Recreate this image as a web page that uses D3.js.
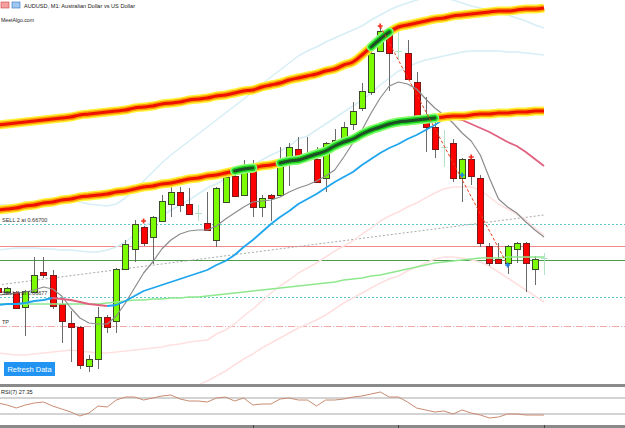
<!DOCTYPE html>
<html>
<head>
<meta charset="utf-8">
<script src="https://cdn.jsdelivr.net/npm/d3@7/dist/d3.min.js"></script>
<style>
  body { margin: 0; background: #fff; overflow: hidden; }
  svg { display: block; font-family: "Liberation Sans", Arial, sans-serif; }
</style>
</head>
<body>
<svg id="chart" width="625" height="428"></svg>
<script>
// AUDUSD M1 bars, left to right
const opens = [0.66636,0.66632,0.66632,0.66617,0.66632,0.66652,0.66649,0.66620,0.66601,0.66597,
  0.66558,0.66565,0.66607,0.66603,0.66655,0.66675,0.66697,0.66687,0.66703,0.66720,
  0.66732,0.66720,0.66711,0.66701,0.66684,0.66722,0.66748,0.66729,0.66757,0.66717,
  0.66729,0.66729,0.66764,0.66775,0.66768,0.66765,0.66746,0.66781,0.66784,0.66800,
  0.66816,0.66832,0.66873,0.66892,0.66873,0.66871,0.66842,0.66805,0.66797,0.66777,
  0.66781,0.66746,0.66765,0.66746,0.66678,0.66665,0.66661,0.66675,0.66681,0.66655,
  0.66666];
const highs = [0.66638,0.66637,0.66633,0.66634,0.66667,0.66667,0.66654,0.66624,0.66613,0.66598,
  0.66569,0.66617,0.66609,0.66656,0.66684,0.66704,0.66698,0.66708,0.66729,0.66737,
  0.66737,0.66736,0.66719,0.66732,0.66737,0.66752,0.66749,0.66764,0.66764,0.66729,
  0.66730,0.66777,0.66781,0.66787,0.66787,0.66777,0.66782,0.66795,0.66802,0.66822,
  0.66841,0.66872,0.66899,0.66893,0.66892,0.66884,0.66852,0.66827,0.66802,0.66794,
  0.66785,0.66766,0.66767,0.66749,0.66681,0.66681,0.66679,0.66682,0.66682,0.66668,
  0.66671];
const lows = [0.66630,0.66632,0.66616,0.66588,0.66632,0.66646,0.66615,0.66581,0.66562,0.66555,
  0.66552,0.66555,0.66591,0.66591,0.66654,0.66662,0.66678,0.66660,0.66702,0.66707,
  0.66712,0.66710,0.66703,0.66693,0.66677,0.66721,0.66727,0.66728,0.66707,0.66707,
  0.66703,0.66728,0.66738,0.66767,0.66766,0.66741,0.66732,0.66780,0.66783,0.66794,
  0.66813,0.66829,0.66872,0.66833,0.66864,0.66844,0.66804,0.66772,0.66766,0.66757,
  0.66742,0.66722,0.66739,0.66677,0.66658,0.66661,0.66650,0.66661,0.66632,0.66639,
  0.66649];
const closes = [0.66632,0.66636,0.66616,0.66633,0.66649,0.66649,0.66618,0.66603,0.66597,0.66559,
  0.66565,0.66607,0.66597,0.66655,0.66680,0.66700,0.66681,0.66707,0.66723,0.66732,
  0.66719,0.66710,0.66711,0.66694,0.66736,0.66747,0.66728,0.66756,0.66717,0.66726,
  0.66726,0.66764,0.66777,0.66768,0.66771,0.66742,0.66781,0.66784,0.66797,0.66813,
  0.66833,0.66871,0.66893,0.66871,0.66873,0.66845,0.66807,0.66797,0.66775,0.66777,
  0.66746,0.66765,0.66748,0.66681,0.66661,0.66661,0.66678,0.66681,0.66661,0.66665,
  0.66666];

// moving averages
const maFast = [0.66629,0.66630,0.66631,0.66632,0.66634,0.66637,0.66635,0.66628,0.66616,0.66606,
  0.66601,0.66600,0.66600,0.66608,0.66621,0.66636,0.66651,0.66662,0.66675,0.66684,
  0.66690,0.66693,0.66694,0.66694,0.66698,0.66705,0.66711,0.66717,0.66722,0.66723,
  0.66724,0.66727,0.66732,0.66736,0.66739,0.66743,0.66748,0.66754,0.66767,0.66781,
  0.66794,0.66811,0.66826,0.66838,0.66842,0.66840,0.66835,0.66825,0.66816,0.66809,
  0.66801,0.66791,0.66783,0.66769,0.66746,0.66725,0.66717,0.66711,0.66702,0.66694,
  0.66687];
const maMid = [0.66619,0.66620,0.66620,0.66621,0.66623,0.66624,0.66626,0.66625,0.66624,0.66622,
  0.66620,0.66619,0.66618,0.66619,0.66623,0.66628,0.66633,0.66636,0.66639,0.66642,
  0.66645,0.66648,0.66651,0.66654,0.66659,0.66663,0.66669,0.66677,0.66684,0.66692,
  0.66700,0.66707,0.66713,0.66720,0.66725,0.66730,0.66736,0.66742,0.66747,0.66752,
  0.66759,0.66765,0.66771,0.66776,0.66780,0.66785,0.66789,0.66794,0.66799,0.66805,
  0.66806,0.66804,0.66800,0.66796,0.66792,0.66787,0.66782,0.66778,0.66772,0.66765,
  0.66758];
const maSlow = [0.66620,0.66620,0.66620,0.66620,0.66620,0.66620,0.66620,0.66620,0.66620,0.66620,
  0.66620,0.66620,0.66621,0.66622,0.66623,0.66624,0.66624,0.66625,0.66625,0.66626,
  0.66626,0.66627,0.66627,0.66628,0.66629,0.66630,0.66631,0.66632,0.66633,0.66634,
  0.66635,0.66636,0.66637,0.66638,0.66639,0.66640,0.66641,0.66642,0.66644,0.66645,
  0.66646,0.66648,0.66649,0.66651,0.66653,0.66655,0.66657,0.66659,0.66661,0.66662,
  0.66663,0.66664,0.66665,0.66666,0.66666,0.66666,0.66667,0.66667,0.66667,0.66667,
  0.66667];

// glowing channel lines and the bars where they turn green
const chanHigh = [0.66799,0.66800,0.66801,0.66802,0.66803,0.66804,0.66805,0.66806,0.66807,0.66809,
  0.66810,0.66811,0.66812,0.66813,0.66814,0.66816,0.66817,0.66818,0.66820,0.66821,
  0.66822,0.66824,0.66825,0.66826,0.66828,0.66829,0.66831,0.66833,0.66834,0.66837,
  0.66839,0.66841,0.66844,0.66846,0.66848,0.66850,0.66853,0.66855,0.66859,0.66862,
  0.66869,0.66877,0.66885,0.66892,0.66897,0.66899,0.66901,0.66903,0.66905,0.66906,
  0.66908,0.66909,0.66910,0.66911,0.66912,0.66913,0.66913,0.66914,0.66915,0.66915,
  0.66916];
const chanLow = [0.66714,0.66715,0.66716,0.66718,0.66719,0.66721,0.66722,0.66724,0.66725,0.66727,
  0.66728,0.66729,0.66730,0.66732,0.66733,0.66735,0.66737,0.66738,0.66740,0.66741,
  0.66743,0.66745,0.66746,0.66748,0.66749,0.66751,0.66753,0.66755,0.66756,0.66758,
  0.66759,0.66761,0.66763,0.66764,0.66767,0.66770,0.66773,0.66778,0.66782,0.66785,
  0.66790,0.66794,0.66797,0.66800,0.66802,0.66803,0.66804,0.66805,0.66806,0.66807,
  0.66808,0.66808,0.66809,0.66810,0.66810,0.66811,0.66811,0.66812,0.66812,0.66813,
  0.66813];
const chanHighGreen = [[41, 43]];
const chanLowGreen = [[26, 28], [31, 48]];

// pale bands
const bandUpIn = [0.66674,0.66675,0.66676,0.66676,0.66676,0.66675,0.66675,0.66674,0.66674,0.66673,
  0.66672,0.66672,0.66674,0.66677,0.66682,0.66689,0.66697,0.66703,0.66708,0.66714,
  0.66719,0.66724,0.66730,0.66736,0.66740,0.66745,0.66750,0.66756,0.66759,0.66764,
  0.66769,0.66773,0.66778,0.66785,0.66788,0.66794,0.66800,0.66806,0.66812,0.66818,
  0.66824,0.66831,0.66839,0.66846,0.66853,0.66857,0.66861,0.66864,0.66866,0.66868,
  0.66870,0.66872,0.66873,0.66873,0.66873,0.66873,0.66872,0.66872,0.66871,0.66870,
  0.66869];
const bandUpOut = [0.66719,0.66719,0.66719,0.66720,0.66722,0.66724,0.66726,0.66726,0.66724,0.66722,
  0.66720,0.66719,0.66718,0.66720,0.66726,0.66734,0.66743,0.66752,0.66761,0.66769,
  0.66776,0.66783,0.66790,0.66797,0.66804,0.66811,0.66818,0.66825,0.66832,0.66840,
  0.66847,0.66854,0.66861,0.66868,0.66873,0.66877,0.66882,0.66886,0.66890,0.66894,
  0.66898,0.66904,0.66909,0.66914,0.66918,0.66921,0.66924,0.66926,0.66927,0.66926,
  0.66924,0.66921,0.66918,0.66916,0.66914,0.66912,0.66909,0.66906,0.66903,0.66899,
  0.66896];
const bandLowIn = [0.66571,0.66570,0.66569,0.66569,0.66570,0.66571,0.66572,0.66573,0.66574,0.66573,
  0.66572,0.66571,0.66571,0.66572,0.66573,0.66574,0.66575,0.66576,0.66577,0.66579,
  0.66580,0.66582,0.66583,0.66584,0.66590,0.66594,0.66600,0.66608,0.66615,0.66623,
  0.66631,0.66638,0.66644,0.66651,0.66656,0.66661,0.66667,0.66673,0.66678,0.66683,
  0.66690,0.66696,0.66703,0.66708,0.66712,0.66717,0.66721,0.66726,0.66731,0.66735,
  0.66737,0.66737,0.66737,0.66734,0.66727,0.66720,0.66715,0.66710,0.66704,0.66696,
  0.66689];
const bandLowOut = [0.66519,0.66518,0.66517,0.66518,0.66520,0.66522,0.66524,0.66524,0.66523,0.66521,
  0.66519,0.66518,0.66517,0.66518,0.66520,0.66522,0.66524,0.66526,0.66528,0.66530,
  0.66532,0.66535,0.66539,0.66543,0.66548,0.66553,0.66559,0.66565,0.66570,0.66576,
  0.66581,0.66586,0.66591,0.66596,0.66600,0.66604,0.66609,0.66615,0.66621,0.66626,
  0.66631,0.66636,0.66641,0.66645,0.66648,0.66653,0.66657,0.66661,0.66665,0.66667,
  0.66667,0.66666,0.66664,0.66662,0.66658,0.66652,0.66646,0.66640,0.66634,0.66628,
  0.66622];

// RSI(7)
const rsi = [57.5,52.5,45,52.5,57.5,60,50,42.5,35,25,
  32.5,50,47.5,65,72.5,72.5,65,70,75,77.5,
  67.5,62.5,62.5,60,70,72.5,62.5,70,52.5,55,
  55,67.5,70,65,65,50,65,65,67.5,72.5,
  75,80,85,72.5,72.5,60,45,40,35,37.5,
  30,40,32.5,27.5,20,22.5,30,30,27.5,27.5,
  27.35];
const rsiLevels = [70, 30];

// chart objects
const levelPrices = [0.66700, 0.66678, 0.66664, 0.66627, 0.66598];
const levelKinds = ["sell", "red", "green", "sell", "tp"];
const levelLabels = ["SELL 2 at 0.66700", "", "", "SELL 1 at 0.66677", "TP"];
const trendBars = [0, 60];
const trendPrices = [0.66639, 0.66709];
const zigBars = [42, 56];
const zigPrices = [0.66898, 0.66659];
const sellMarks = [[16, 0.66703], [42, 0.66898], [52, 0.66767]];
const closeMarks = [[51, 0.66749], [56, 0.66659]];

const width = 625, height = 428, mainBottom = 384;
const svg = d3.select("#chart");

const x = d3.scaleLinear().domain([0, opens.length - 1]).range([-2, 544]);
const y = d3.scaleLinear().domain([0.66924, 0.66540]).range([0, mainBottom]);
const ry = d3.scaleLinear().domain([0, 100]).range([426, 386]);

svg.append("clipPath").attr("id", "mainclip")
  .append("rect").attr("width", width).attr("height", mainBottom);
const main = svg.append("g").attr("clip-path", "url(#mainclip)");

const line = d3.line()
  .defined(v => v != null)
  .x((v, i) => x(i))
  .y(v => y(v));

function series(g, values, color, w, dash) {
  return g.append("path")
    .attr("d", line(values))
    .attr("fill", "none")
    .attr("stroke", color)
    .attr("stroke-width", w)
    .attr("stroke-linejoin", "round")
    .attr("stroke-dasharray", dash || null);
}

// horizontal levels
const levelStyle = {
  sell: {c: "#5cc8c8", w: 1, d: "2,2"},
  red: {c: "#f08a8a", w: 1, d: null},
  green: {c: "#4a9a4a", w: 1, d: null},
  tp: {c: "#f0a8a8", w: 1, d: "7,2,1,2"}
};
levelPrices.forEach((p, k) => {
  const s = levelStyle[levelKinds[k]];
  const yy = Math.round(y(p)) + 0.5;
  main.append("line")
    .attr("x1", 0).attr("x2", width).attr("y1", yy).attr("y2", yy)
    .attr("stroke", s.c).attr("stroke-width", s.w)
    .attr("stroke-dasharray", s.d);
});

// trend line
main.append("line")
  .attr("x1", x(trendBars[0])).attr("y1", y(trendPrices[0]))
  .attr("x2", x(trendBars[1])).attr("y2", y(trendPrices[1]))
  .attr("stroke", "#a8a8a8").attr("stroke-width", 1).attr("stroke-dasharray", "2,2");

// pale bands
series(main, bandUpOut, "#d6eef6", 1.5);
series(main, bandUpIn, "#d6eef6", 1.5);
series(main, bandLowIn, "#ffe0e0", 1.5);
series(main, bandLowOut, "#ffe0e0", 1.5);

// candles
const bars = main.append("g").attr("shape-rendering", "crispEdges");
opens.forEach((o, i) => {
  const c = closes[i];
  const cx = Math.round(x(i));
  const doji = o === c;
  bars.append("line")
    .attr("x1", cx + 0.5).attr("x2", cx + 0.5)
    .attr("y1", y(highs[i])).attr("y2", y(lows[i]))
    .attr("stroke", doji ? "#b4e2c8" : "#6a6a6a");
  if (doji) {
    bars.append("line")
      .attr("x1", cx - 3).attr("x2", cx + 4)
      .attr("y1", Math.round(y(o)) + 0.5).attr("y2", Math.round(y(o)) + 0.5)
      .attr("stroke", "#b4e2c8");
    return;
  }
  const top = Math.round(y(Math.max(o, c)));
  const bot = Math.round(y(Math.min(o, c)));
  bars.append("rect")
    .attr("x", cx - 2.5).attr("y", top + 0.5)
    .attr("width", 6).attr("height", Math.max(1, bot - top))
    .attr("fill", c > o ? "#7cfc00" : "#ff0000")
    .attr("stroke", c > o ? "#3c4a2c" : "#7a1a1a")
    .attr("stroke-width", 1);
});

// moving averages
series(main, maSlow, "#8ee88e", 1.5);
series(main, maFast, "#8c8c8c", 1.2);
let runs = [];
for (let i = 0; i < maMid.length - 1; i++) {
  const down = maMid[i + 1] < maMid[i];
  const last = runs[runs.length - 1];
  if (last && last.down === down) last.end = i + 1;
  else runs.push({down: down, start: i, end: i + 1});
}
runs.forEach(r => {
  const part = maMid.map((v, i) => (i >= r.start && i <= r.end) ? v : null);
  series(main, part, r.down ? "#e2607f" : "#1ea6ee", 1.8);
});

// glowing channel
const smooth = d3.line()
  .defined(v => v != null)
  .x((v, i) => x(i))
  .y(v => y(v))
  .curve(d3.curveMonotoneX);
function glow(values, greens) {
  [[9, "#fff23a"], [6, "#ff9c00"], [3, "#ee1000"]].forEach(([w, c]) => {
    main.append("path").attr("d", smooth(values))
      .attr("fill", "none").attr("stroke", c).attr("stroke-width", w);
  });
  greens.forEach(([a, b]) => {
    const part = values.map((v, i) => (i >= a && i <= b) ? v : null);
    [[9, "#7cff7c"], [6, "#19d119"], [3, "#1f4f27"]].forEach(([w, c]) => {
      main.append("path").attr("d", smooth(part))
        .attr("fill", "none").attr("stroke", c).attr("stroke-width", w)
        .attr("stroke-linecap", "round");
    });
  });
}
glow(chanHigh, chanHighGreen);
glow(chanLow, chanLowGreen);

// trade lines and marks
main.append("line")
  .attr("x1", x(zigBars[0])).attr("y1", y(zigPrices[0]))
  .attr("x2", x(zigBars[1])).attr("y2", y(zigPrices[1]))
  .attr("stroke", "#e8401c").attr("stroke-width", 1).attr("stroke-dasharray", "3,2");
const cross = d3.symbol().type(d3.symbolCross).size(14);
sellMarks.forEach(([i, p]) => {
  main.append("path").attr("d", cross)
    .attr("transform", `translate(${x(i)},${y(p)})`).attr("fill", "#f03020");
});
closeMarks.forEach(([i, p]) => {
  main.append("path").attr("d", cross)
    .attr("transform", `translate(${x(i)},${y(p)})`).attr("fill", "#1e7ee8");
});

// level labels
levelPrices.forEach((p, k) => {
  if (!levelLabels[k]) return;
  svg.append("text")
    .attr("x", 2).attr("y", y(p) - 2)
    .attr("font-size", 5.5).attr("fill", "#333")
    .text(levelLabels[k]);
});

// header
svg.append("rect").attr("x", 1).attr("y", 2).attr("width", 8).attr("height", 6)
  .attr("fill", "#f4a0a0").attr("stroke", "#d04040").attr("stroke-width", 0.6);
svg.append("rect").attr("x", 12).attr("y", 2).attr("width", 8).attr("height", 6)
  .attr("fill", "#9fc8f0").attr("stroke", "#3070c0").attr("stroke-width", 0.6);
svg.append("text").attr("x", 24).attr("y", 8)
  .attr("font-size", 5.6).attr("fill", "#222")
  .attr("textLength", 111).attr("lengthAdjust", "spacingAndGlyphs")
  .text("AUDUSD, M1:  Australian Dollar vs US Dollar");
svg.append("text").attr("x", 1).attr("y", 22)
  .attr("font-size", 5.6).attr("fill", "#222")
  .attr("textLength", 33).attr("lengthAdjust", "spacingAndGlyphs")
  .text("MeetAlgo.com");

// refresh button
svg.append("rect").attr("x", 4).attr("y", 362).attr("width", 51).attr("height", 14)
  .attr("fill", "#2194f3");
svg.append("text").attr("x", 29.5).attr("y", 372)
  .attr("text-anchor", "middle").attr("font-size", 7.5).attr("fill", "#fff")
  .text("Refresh Data");

// RSI window
svg.append("rect").attr("x", 0).attr("y", 384).attr("width", width).attr("height", 3)
  .attr("fill", "#8a8a8a");
svg.append("rect").attr("x", 0).attr("y", 425).attr("width", width).attr("height", 3)
  .attr("fill", "#8a8a8a");
rsiLevels.forEach(v => {
  svg.append("line").attr("x1", 0).attr("x2", width)
    .attr("y1", ry(v)).attr("y2", ry(v))
    .attr("stroke", "#c4c4c4").attr("stroke-width", 1.5);
});
svg.append("path")
  .attr("d", d3.line().x((v, i) => x(i)).y(v => ry(v))(rsi))
  .attr("fill", "none").attr("stroke", "#c88c72").attr("stroke-width", 1);
svg.append("text").attr("x", 1).attr("y", 393.5)
  .attr("font-size", 5.6).attr("fill", "#222")
  .text("RSI(7) " + rsi[rsi.length - 1].toFixed(2));
[28, 44, 60].forEach(i => {
  svg.append("line").attr("x1", Math.round(x(i)) + 0.5).attr("x2", Math.round(x(i)) + 0.5)
    .attr("y1", 425).attr("y2", 428).attr("stroke", "#444");
});
</script>
</body>
</html>
